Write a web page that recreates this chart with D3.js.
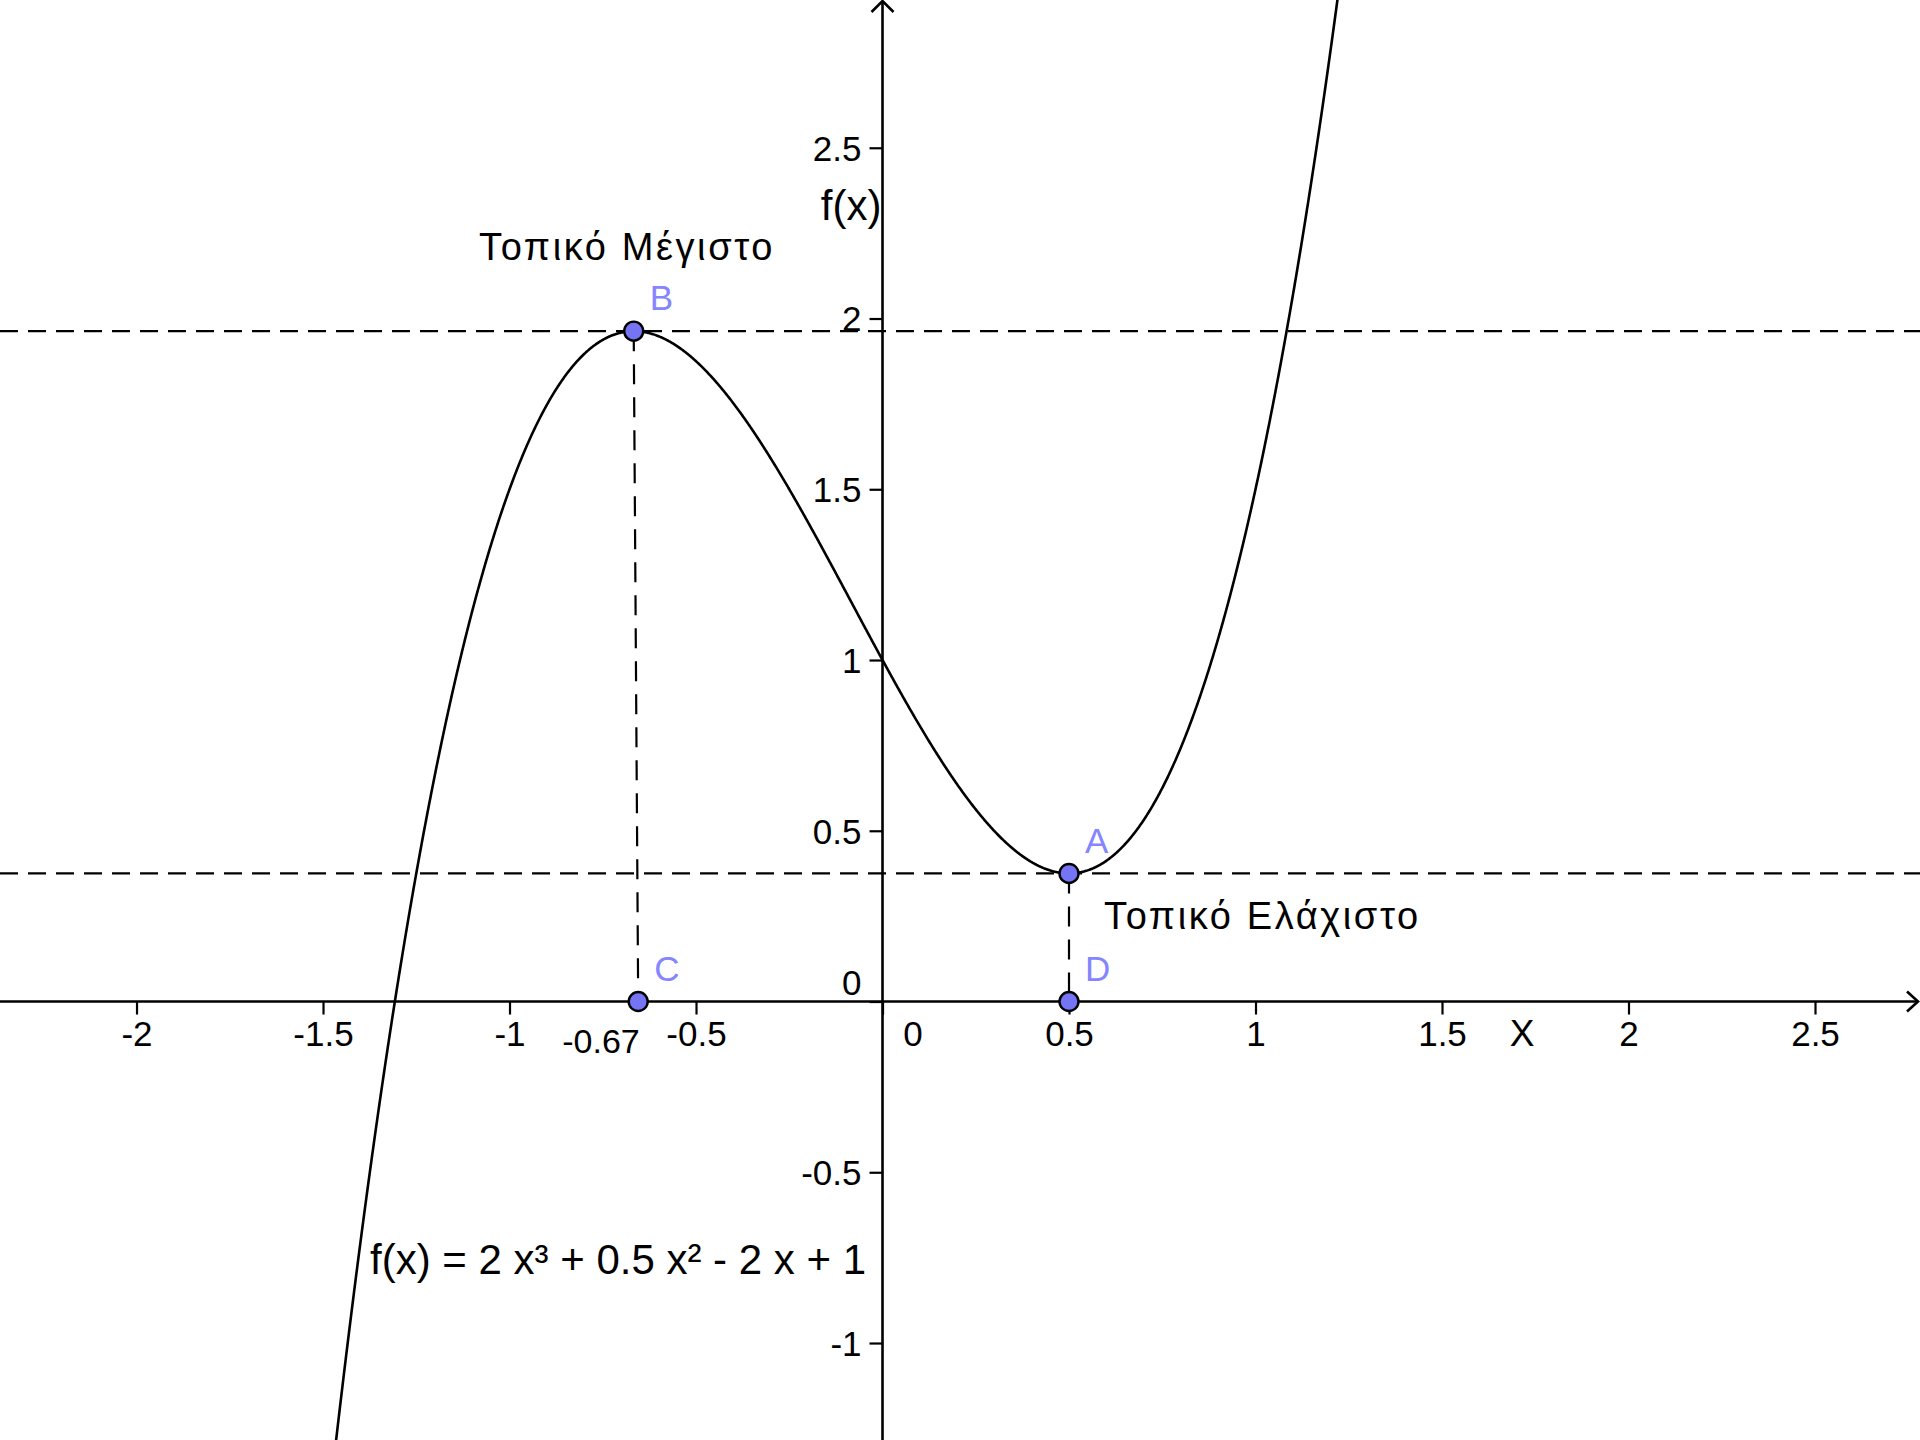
<!DOCTYPE html>
<html>
<head>
<meta charset="utf-8">
<script src="https://cdn.jsdelivr.net/npm/d3@7"></script>
<style>
  html, body { margin: 0; padding: 0; background: #ffffff; }
  svg { display: block; }
  text { font-family: "Liberation Sans", Arial, sans-serif; fill: #000; }
</style>
</head>
<body>
<svg id="chart" width="1920" height="1440"></svg>
<script>
// f(x) = 2x³ + 0.5x² − 2x + 1, coefficients from highest power down
const coefficients = [2, 0.5, -2, 1];
const xTicks = [-2, -1.5, -1, -0.5, 0, 0.5, 1, 1.5, 2, 2.5];
const yTicks = [-1, -0.5, 0, 0.5, 1, 1.5, 2, 2.5];

// Named points: local minimum A, local maximum B and their feet C, D
const pointNames = ["A", "B", "C", "D"];
const pointX = [0.5, -0.667, -0.655, 0.5];
const pointY = [0.375, 1.963, 0, 0];

// Dashed guides: horizontals through B and A, verticals B→C and A→D
const guideLevels = [1.963, 0.375];
const dropLines = [["B", "C"], ["A", "D"]];

const W = 1920, H = 1440;
const svg = d3.select("#chart");
svg.append("rect").attr("width", W).attr("height", H).attr("fill", "#fff");

const x = d3.scaleLinear().domain([-2.366, 2.7815]).range([0, W]);
const y = d3.scaleLinear().domain([2.9327, -1.284]).range([0, H]);

const f = v => coefficients.reduce((acc, c) => acc * v + c, 0);

// ---- dashed guide lines
const dash = "18,10";
svg.append("g").selectAll("line.level").data(guideLevels).join("line")
  .attr("x1", 0).attr("x2", W)
  .attr("y1", d => y(d)).attr("y2", d => y(d))
  .attr("stroke", "#000").attr("stroke-width", 2.2).attr("stroke-dasharray", dash);

const pt = name => { const i = pointNames.indexOf(name); return [pointX[i], pointY[i]]; };
svg.append("g").selectAll("line.drop").data(dropLines).join("line")
  .attr("x1", d => x(pt(d[0])[0])).attr("y1", d => y(pt(d[0])[1]))
  .attr("x2", d => x(pt(d[1])[0])).attr("y2", d => y(pt(d[1])[1]))
  .attr("stroke", "#000").attr("stroke-width", 2.2).attr("stroke-dasharray", "20,13");

// ---- axes
const axisColor = "#000";
const xAxis = d3.axisBottom(x).tickValues(xTicks).tickSize(13).tickSizeOuter(0)
  .tickFormat(d => d3.format("")(d).replace("−", "-"));
const gx = svg.append("g").attr("transform", `translate(0,${y(0)})`).call(xAxis);
gx.select(".domain").remove();
gx.selectAll(".tick line").attr("stroke", axisColor).attr("stroke-width", 2.2);
gx.selectAll(".tick text")
  .attr("y", 32).attr("dy", "0.35em")
  .attr("font-size", 35).attr("font-family", null)
  .attr("dx", d => d === 0 ? 30 : 0);

const yAxis = d3.axisLeft(y).tickValues(yTicks).tickSize(13).tickSizeOuter(0)
  .tickFormat(d => d3.format("")(d).replace("−", "-"));
const gy = svg.append("g").attr("transform", `translate(${x(0)},0)`).call(yAxis);
gy.select(".domain").remove();
gy.selectAll(".tick line").attr("stroke", axisColor).attr("stroke-width", 2.2);
gy.selectAll(".tick text")
  .attr("x", -21).attr("dy", "0.35em")
  .attr("font-size", 35).attr("font-family", null)
  .attr("transform", d => d === 0 ? "translate(0,-19)" : null);

// main axis lines with open arrowheads
svg.append("line").attr("x1", 0).attr("x2", W - 2).attr("y1", y(0)).attr("y2", y(0))
  .attr("stroke", axisColor).attr("stroke-width", 2.6);
svg.append("line").attr("x1", x(0)).attr("x2", x(0)).attr("y1", 1).attr("y2", H)
  .attr("stroke", axisColor).attr("stroke-width", 2.6);
svg.append("path")
  .attr("d", `M${W - 13},${y(0) - 10} L${W - 2},${y(0)} L${W - 13},${y(0) + 10}`)
  .attr("fill", "none").attr("stroke", axisColor).attr("stroke-width", 2.6);
svg.append("path")
  .attr("d", `M${x(0) - 11},${12} L${x(0)},${1} L${x(0) + 11},${12}`)
  .attr("fill", "none").attr("stroke", axisColor).attr("stroke-width", 2.6);

// axis titles
svg.append("text").attr("x", 1522).attr("y", y(0) + 32).attr("dy", "0.35em")
  .attr("text-anchor", "middle").attr("font-size", 37).text("X");
svg.append("text").attr("x", x(0) - 1).attr("y", y(2.5) + 58).attr("dy", "0.35em")
  .attr("text-anchor", "end").attr("font-size", 42).text("f(x)");

// ---- the curve
svg.append("clipPath").attr("id", "plotClip")
  .append("rect").attr("width", W).attr("height", H);
const samples = d3.range(x.domain()[0], x.domain()[1], 0.002).map(v => [v, f(v)]);
svg.append("path")
  .datum(samples)
  .attr("clip-path", "url(#plotClip)")
  .attr("d", d3.line().x(d => x(d[0])).y(d => y(Math.max(-3, Math.min(5, d[1])))))
  .attr("fill", "none").attr("stroke", "#000").attr("stroke-width", 2.6);

// ---- points and their labels
const pointColor = "#7474f4";
const labelColor = "#8585ff";
const gp = svg.append("g");
pointNames.forEach((name, i) => {
  gp.append("circle")
    .attr("cx", x(pointX[i])).attr("cy", y(pointY[i])).attr("r", 9.5)
    .attr("fill", pointColor).attr("stroke", "#000").attr("stroke-width", 2.4);
  gp.append("text")
    .attr("x", x(pointX[i]) + 16).attr("y", y(pointY[i]) - 33).attr("dy", "0.35em")
    .attr("font-size", 35).attr("fill", labelColor).style("fill", labelColor)
    .text(name);
});

// ---- annotations
svg.append("text").attr("x", 601).attr("y", y(0) + 40).attr("dy", "0.35em")
  .attr("text-anchor", "middle").attr("font-size", 34).text("-0.67");
svg.append("text").attr("x", 479).attr("y", 247).attr("dy", "0.35em")
  .attr("font-size", 38).attr("letter-spacing", 2.6).text("Τοπικό Μέγιστο");
svg.append("text").attr("x", 1104).attr("y", 916).attr("dy", "0.35em")
  .attr("font-size", 38).attr("letter-spacing", 2.6).text("Τοπικό Ελάχιστο");
svg.append("text").attr("x", 370).attr("y", 1259).attr("dy", "0.35em")
  .attr("font-size", 42).text("f(x) = 2 x³ + 0.5 x² - 2 x + 1");
</script>
</body>
</html>
